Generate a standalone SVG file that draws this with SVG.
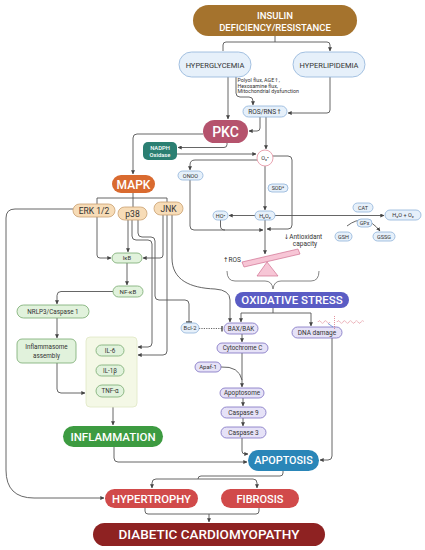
<svg xmlns="http://www.w3.org/2000/svg" width="425" height="550" viewBox="0 0 425 550">
<style>
text{font-family:Roboto,"Liberation Sans",sans-serif;text-anchor:middle}
.ar{font-family:"DejaVu Sans",sans-serif}
.w{fill:#fff;font-weight:500}
.d{fill:#333}
.blue{fill:#e6f0fa;stroke:#8fb3d9;stroke-width:0.8}
.lav{fill:#e6e2f7;stroke:#7b6fc0;stroke-width:0.8}
.grn{fill:#e1f2dc;stroke:#77aa6f;stroke-width:0.8}
.pch{fill:#f7dcb7;stroke:#c9a070;stroke-width:0.8}
.c path,.c line{fill:none;stroke:#555;stroke-width:0.9}
.a{marker-end:url(#ah)}
</style>
<defs>
<marker id="ah" viewBox="0 0 6 6" refX="5.5" refY="3" markerWidth="4" markerHeight="4" markerUnits="userSpaceOnUse" orient="auto"><path d="M0,0L6,3L0,6z" fill="#444"/></marker>
<marker id="tb" viewBox="0 0 2 8" refX="1" refY="4" markerWidth="1.6" markerHeight="6" markerUnits="userSpaceOnUse" orient="auto"><rect x="0" y="0" width="2" height="8" fill="#555"/></marker>
</defs>
<rect width="425" height="550" fill="#fff"/>

<g class="c">
<path d="M275,36V42"/>
<path class="a" d="M223,51V45Q223,42 226,42H327Q330,42 330,45V51"/>
<path class="a" d="M228,77V119"/>
<path class="a" d="M236,77V93Q236,97 240,97H249Q253,97 253,101V105"/>
<path class="a" d="M330,77V110Q330,113 327,113H288"/>
<path class="a" d="M260,117V128Q260,131 257,131H249"/>
<path class="a" d="M266,117V149"/>
<path class="a" d="M227,143V144.5Q227,147.5 224,147.5H178"/>
<path class="a" d="M177,154H256"/>
<path class="a" d="M257,160H195Q190,160 190,165V170"/>
<path class="a" d="M203,134H137Q133,134 133,138V174"/>
<path class="a" d="M265,166V210"/>
<path class="a" d="M255,215.5H229"/>
<path class="a" d="M275,215.5H384"/>
<path class="a" d="M273,156H288Q292,156 292,160V225Q292,229 288,229H267"/>
<path class="a" d="M190,180V226Q190,230 194,230H263"/>
<path d="M220.5,220V226Q220.5,230 225,230"/>
<path class="a" d="M265,220V254"/>
<path class="a" d="M347,226Q365,212 380,231"/>
<path d="M133,193V198M97,198H167M97,198V204M133,198V207M167,198V202"/>
<path class="a" d="M73,209H15Q6,209 6,218V470Q6,498 34,498H104"/>
<path class="a" d="M97,217V255Q97,258 100,258H111"/>
<path class="a" d="M128,220V252"/>
<path class="a" d="M163,215V255Q163,258 160,258H143"/>
<path class="a" d="M127,263V285"/>
<path class="a" d="M113,291.5H61Q57,291.5 57,295.5V304"/>
<path class="a" d="M57,318V338"/>
<path class="a" d="M57,363V389Q57,393 61,393H85"/>
<path class="a" d="M113,407V425"/>
<path class="a" d="M132,220V236Q132,240 136,240H148Q152,240 152,244V343Q152,347 148,347H138"/>
<path marker-end="url(#tb)" d="M138,220V233Q138,237 142,237H151Q155,237 155,241V296Q155,300 159,300H185Q189,300 189,304V322"/>
<path class="a" d="M167,215V351Q167,355 163,355H138"/>
<path class="a" d="M172,215V258C172,280 190,288 215,289Q230,290 230,300V322"/>
<path marker-end="url(#tb)" stroke-dasharray="1.2,1.2" d="M199,328.5H222"/>
<path d="M273,308V313M241,313H311"/>
<path class="a" d="M241,313V322"/>
<path class="a" d="M311,313V326"/>
<path class="a" d="M242,334V342"/>
<path class="a" d="M242,353V387"/>
<path d="M221,367Q239,366 242,380"/>
<path class="a" d="M243,398V406"/>
<path class="a" d="M243,418V426"/>
<path class="a" d="M242,438V451Q242,454 245,454H248"/>
<path class="a" d="M114,447V458Q114,462 118,462H247"/>
<path class="a" d="M332,338V456Q332,460 328,460H320"/>
<path d="M283,471V473Q283,476 280,476H201Q198,476 198,479"/>
<path class="a" d="M198,479H156Q152,479 152,483V488"/>
<path class="a" d="M198,479H253Q257,479 257,483V488"/>
<path d="M145,508V511Q145,514 148,514H256Q259,514 259,511V508"/>
<path class="a" d="M209,514V522"/>
</g>

<g id="insulin"><rect x="193" y="5" width="164" height="31" rx="15.5" fill="#a5732d"/><text class="w" x="275" y="19" font-size="9.5">INSULIN</text><text class="w" x="275" y="30.5" font-size="9.5">DEFICIENCY/RESISTANCE</text></g>
<g id="hyperglycemia"><rect class="blue" x="179" y="52" width="72" height="25" rx="12.5"/><text class="d" x="215" y="67.5" font-size="7.5">HYPERGLYCEMIA</text></g>
<g id="hyperlipidemia"><rect class="blue" x="293" y="52" width="72" height="25" rx="12.5"/><text class="d" x="329" y="67.5" font-size="7.5">HYPERLIPIDEMIA</text></g>
<g id="polyol"><text class="d" font-size="5.3" style="text-anchor:start"><tspan x="237.5" y="82">Polyol flux, AGE<tspan class="ar">↑</tspan>,</tspan><tspan x="237.5" y="87.5">Hexosamine flux,</tspan><tspan x="237.5" y="93">Mitochondrial dysfunction</tspan></text></g>
<g id="rosrns"><rect class="blue" x="243" y="106" width="44" height="11" rx="5.5"/><text class="d" x="265" y="114" font-size="6.6">ROS/RNS<tspan class="ar">↑</tspan></text></g>
<g id="pkc"><rect x="203" y="120" width="45" height="23" rx="11.5" fill="#b5536d"/><text class="w" x="225.5" y="136.5" font-size="14">PKC</text></g>
<g id="nadph"><rect x="143" y="142" width="34" height="18" rx="5" fill="#2b7f72"/><text class="w" x="160" y="149.8" font-size="5.8" font-weight="bold">NADPH</text><text class="w" x="160" y="157.3" font-size="5.8" font-weight="bold">Oxidase</text></g>
<g id="o2"><circle cx="265" cy="158" r="8" fill="#fff" stroke="#e79aa8" stroke-width="0.9"/><text class="d" x="265" y="160" font-size="5.5">O₂•</text></g>
<g id="onoo"><rect class="blue" x="178" y="171" width="25" height="9" rx="4.5"/><text class="d" x="190.5" y="177.6" font-size="5.5">ONOO</text></g>
<g id="sod"><rect class="blue" x="268" y="184" width="20" height="8" rx="4"/><text class="d" x="278" y="190" font-size="5.3">SOD*</text></g>
<g id="h2o2"><rect class="blue" x="255" y="211" width="20" height="9" rx="4.5"/><text class="d" x="265" y="217.5" font-size="5.5">H₂O₂</text></g>
<g id="ho"><rect class="blue" x="213" y="211" width="15" height="9" rx="4.5"/><text class="d" x="220.5" y="217.5" font-size="5.5">HO•</text></g>
<g id="h2o"><rect class="blue" x="385" y="210" width="36" height="10" rx="5"/><text class="d" x="403" y="217" font-size="5.5">H₂O + O₂</text></g>
<g id="cat"><rect class="blue" x="353" y="203" width="20" height="9" rx="4.5"/><text class="d" x="363" y="209.6" font-size="5.5">CAT</text></g>
<g id="gpx"><rect class="blue" x="357" y="219" width="15" height="8" rx="4"/><text class="d" x="364.5" y="225" font-size="5.3">GPx</text></g>
<g id="gsh"><rect class="blue" x="335" y="232" width="17" height="9" rx="4.5"/><text class="d" x="343.5" y="238.6" font-size="5.5">GSH</text></g>
<g id="gssg"><rect class="blue" x="373" y="232" width="22" height="9" rx="4.5"/><text class="d" x="384" y="238.6" font-size="5.5">GSSG</text></g>
<g id="mapk"><rect x="112" y="175" width="43" height="18" rx="9" fill="#d96a2f"/><text class="w" x="133.5" y="188.5" font-size="12">MAPK</text></g>
<g id="erk"><rect class="pch" x="73" y="204" width="42" height="13" rx="6.5"/><text class="d" x="94" y="213.5" font-size="8.5">ERK 1/2</text></g>
<g id="p38"><rect class="pch" x="118" y="207" width="29" height="13" rx="6.5"/><text class="d" x="132.5" y="216.5" font-size="8.5">p38</text></g>
<g id="jnk"><rect class="pch" x="154" y="202" width="29" height="13" rx="6.5"/><text class="d" x="168.5" y="211.5" font-size="8.5">JNK</text></g>
<g id="ikb"><rect class="grn" x="112" y="253" width="30" height="10" rx="5"/><text class="d" x="127" y="260.2" font-size="5.8">IκB</text></g>
<g id="nfkb"><rect class="grn" x="113" y="286" width="30" height="11" rx="5.5"/><text class="d" x="128" y="293.8" font-size="6.2">NF-κB</text></g>
<g id="nrlp3"><rect class="grn" x="17" y="305" width="72" height="13" rx="6.5"/><text class="d" x="53" y="313.8" font-size="6.3">NRLP3/Caspase 1</text></g>
<g id="inflammasome"><rect class="grn" x="17" y="339" width="59" height="24" rx="5"/><text class="d" x="46.5" y="349" font-size="6.3">Inflammasome</text><text class="d" x="46.5" y="357.5" font-size="6.3">assembly</text></g>
<g id="cytokines"><rect x="86" y="337" width="51" height="70" rx="4" fill="#f4f8e6" stroke="#dfe7c4" stroke-width="0.8"/>
<rect class="grn" x="96" y="345" width="28" height="11" rx="5.5"/><text class="d" x="110" y="352.8" font-size="6.3">IL-6</text>
<rect class="grn" x="96" y="365" width="28" height="11" rx="5.5"/><text class="d" x="110" y="372.8" font-size="6.3">IL-1β</text>
<rect class="grn" x="96" y="385" width="28" height="12" rx="6"/><text class="d" x="110" y="393.3" font-size="6.3">TNF-α</text></g>
<g id="inflammation"><rect x="63" y="426" width="100" height="21" rx="10.5" fill="#3d9b41"/><text class="w" x="113" y="440.5" font-size="11.5">INFLAMMATION</text></g>
<g id="seesaw"><polygon points="242,262 298,249 300,254 244,267" fill="#f7c6d6" stroke="#d07090" stroke-width="0.7"/><polygon points="267,262 257,276 278,276" fill="#f7c6d6" stroke="#d07090" stroke-width="0.7"/>
<text class="d" x="232" y="261.5" font-size="6.5"><tspan class="ar">↑</tspan>ROS</text>
<text class="d" x="303" y="239" font-size="6.5"><tspan class="ar">↓</tspan>Antioxidant</text><text class="d" x="305" y="246" font-size="6.5">capacity</text>
<path d="M227,271Q227,281 235,281H265Q272,281 273,289Q274,281 281,281H311Q319,281 319,271" fill="none" stroke="#666" stroke-width="0.8"/></g>
<g id="oxstress"><rect x="235" y="292" width="114" height="16" rx="8" fill="#5a5cc4"/><text class="w" x="292" y="304.3" font-size="11.5">OXIDATIVE STRESS</text></g>
<g id="bcl2"><rect class="blue" x="181" y="323" width="18" height="10" rx="5"/><text class="d" x="190" y="330.3" font-size="5.8">Bcl-2</text></g>
<g id="baxbak"><rect class="lav" x="224" y="323" width="34" height="11" rx="5.5"/><text class="d" x="241" y="330.8" font-size="6.3">BAX/BAK</text></g>
<g id="dna"><rect class="lav" x="292" y="327" width="50" height="11" rx="5.5"/><text class="d" x="317" y="334.8" font-size="6.5">DNA damage</text>
<path d="M318,322q1.5,-2.5 3,0t3,0t3,0t3,0M337,322q1.5,-2.5 3,0t3,0t3,0t3,0t3,0t3,0t3,0t3,0t3,0" fill="none" stroke="#d04a5a" stroke-width="0.6" stroke-dasharray="1,0.6"/>
<path d="M334.5,316V329" stroke="#d04a5a" stroke-width="0.6" stroke-dasharray="1,1"/>
<path d="M328,323.5L333,327" stroke="#4a7ad0" stroke-width="0.7"/></g>
<g id="cytoc"><rect class="lav" x="217" y="343" width="51" height="10" rx="5"/><text class="d" x="242.5" y="350.3" font-size="6.3">Cytochrome C</text></g>
<g id="apaf"><rect class="lav" x="195" y="362" width="26" height="10" rx="5"/><text class="d" x="208" y="369.3" font-size="6">Apaf-1</text></g>
<g id="apoptosome"><rect class="lav" x="220" y="388" width="44" height="10" rx="5"/><text class="d" x="242" y="395.3" font-size="6.3">Apoptosome</text></g>
<g id="casp9"><rect class="lav" x="221" y="407" width="45" height="11" rx="5.5"/><text class="d" x="243.5" y="414.8" font-size="6.5">Caspase 9</text></g>
<g id="casp3"><rect class="lav" x="221" y="427" width="45" height="11" rx="5.5"/><text class="d" x="243.5" y="434.8" font-size="6.5">Caspase 3</text></g>
<g id="apoptosis"><rect x="248" y="450" width="71" height="21" rx="10.5" fill="#2a86b8"/><text class="w" x="283.5" y="464.3" font-size="10.8">APOPTOSIS</text></g>
<g id="hypertrophy"><rect x="105" y="489" width="93" height="19" rx="9.5" fill="#d14a4a"/><text class="w" x="151.5" y="502.7" font-size="11.3">HYPERTROPHY</text></g>
<g id="fibrosis"><rect x="221" y="489" width="78" height="19" rx="9.5" fill="#d14a4a"/><text class="w" x="260" y="502.7" font-size="11">FIBROSIS</text></g>
<g id="dcm"><rect x="93" y="523" width="232" height="23" rx="11.5" fill="#8e2222"/><text class="w" x="209" y="539.3" font-size="13.5">DIABETIC CARDIOMYOPATHY</text></g>
</svg>
